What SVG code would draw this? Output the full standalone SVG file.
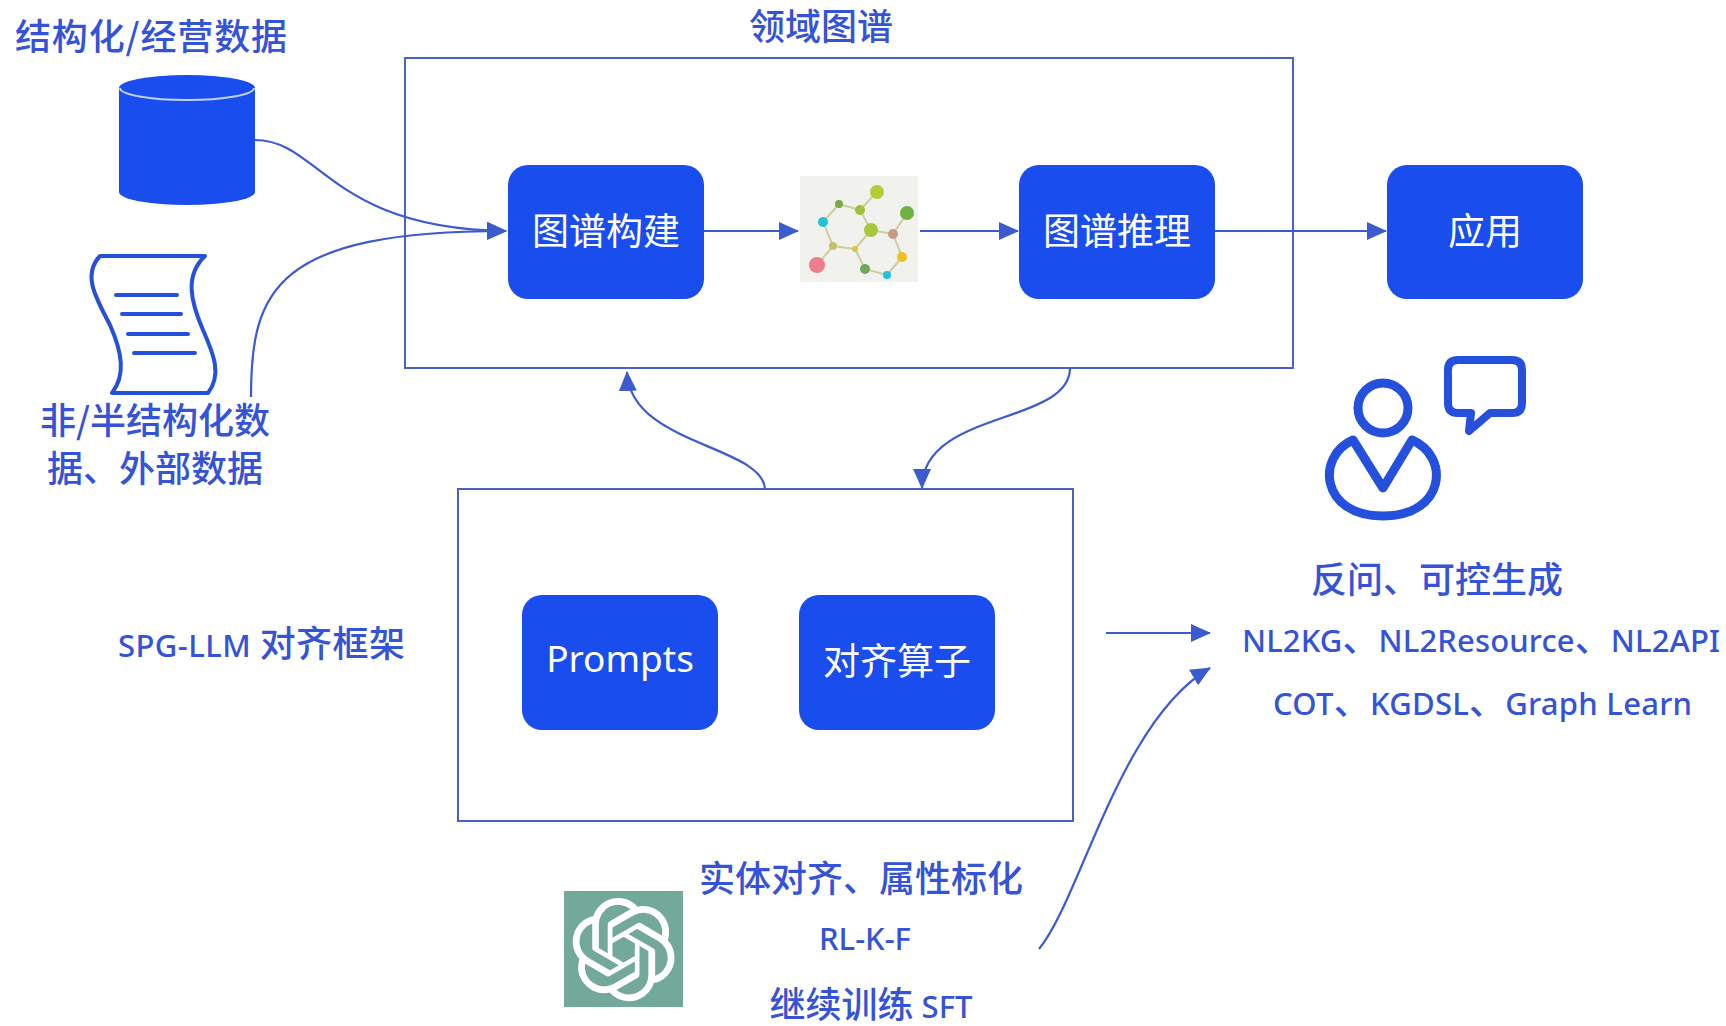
<svg xmlns="http://www.w3.org/2000/svg" width="1726" height="1026" viewBox="0 0 1726 1026">
  <defs>
    <style>
      .cjk { font-family: "Noto Sans CJK SC", sans-serif; }
      .mix { font-family: "Noto Sans", "Noto Sans CJK SC", sans-serif; }
      .lbl { fill: #3553d6; font-size: 36px; font-weight: 500; }
      .lat { font-size: 31px; }
      .box { fill: #1a4ded; }
      .boxtxt { fill: #ffffff; font-size: 37px; text-anchor: middle; }
      .frame { fill: none; stroke: #4a62c4; stroke-width: 2; }
      .conn { fill: none; stroke: #3c5bcf; stroke-width: 2.2; }
      .icon { fill: none; stroke: #2450dc; stroke-linecap: round; stroke-linejoin: round; }
      .mid { text-anchor: middle; }
    </style>
    <marker id="arrow" markerUnits="userSpaceOnUse" markerWidth="20" markerHeight="18" refX="19" refY="9" orient="auto">
      <path d="M0,0 L20,9 L0,18 Z" fill="#3c5bcf"/>
    </marker>
  </defs>

  <rect width="1726" height="1026" fill="#ffffff"/>

  <!-- structured / business data -->
  <g id="node-structured-data">
    <text class="cjk lbl" x="15" y="50" textLength="272">结构化/经营数据</text>
    <path class="box" d="M119,88 V192 A68,13 0 0 0 255,192 V88 A68,13 0 0 0 119,88 Z"/>
    <path d="M120,88 A67,12 0 0 0 254,88" fill="none" stroke="#c3d0ff" stroke-width="2"/>
  </g>

  <!-- unstructured / external data -->
  <g id="node-unstructured-data">
    <path class="icon" stroke-width="4" d="M100,256 H205 C185,275 190,300 203,330 C214,355 222,375 208,393 H112 C126,375 122,352 110,325 C96,298 82,275 100,256 Z"/>
    <path class="icon" stroke-width="4" d="M116,295 H177 M122,314 H181 M128,334 H188 M134,353 H195"/>
    <text class="cjk lbl mid" x="155" y="434">非/半结构化数</text>
    <text class="cjk lbl mid" x="155" y="482">据、外部数据</text>
  </g>

  <!-- domain knowledge graph container -->
  <g id="node-domain-graph">
    <text class="cjk lbl mid" x="821" y="40">领域图谱</text>
    <rect class="frame" x="405" y="58" width="888" height="310"/>
  </g>

  <g id="node-graph-build">
    <rect class="box" x="508" y="165" width="196" height="134" rx="20"/>
    <text class="cjk boxtxt" x="606" y="245">图谱构建</text>
  </g>

  <g id="node-graph-icon">
    <rect x="800" y="176" width="118" height="106" fill="#f1f1ee"/>
    <g stroke="#cfcf9c" stroke-width="2" fill="none">
      <path d="M839,204 L860,210 L877,192 M860,210 L871,230 L893,234 L907,213 M893,234 L902,257 L887,275 L865,269 L855,249 L871,230 M855,249 L833,246 L823,222 L839,204 M833,246 L817,265"/>
    </g>
    <circle cx="877" cy="192" r="7" fill="#b5cc3a"/>
    <circle cx="839" cy="204" r="4" fill="#7aa84a"/>
    <circle cx="860" cy="210" r="5" fill="#9cc13b"/>
    <circle cx="823" cy="222" r="5" fill="#22c3d8"/>
    <circle cx="907" cy="213" r="7" fill="#6fb043"/>
    <circle cx="871" cy="230" r="7" fill="#a7c83c"/>
    <circle cx="893" cy="234" r="5" fill="#c89a8a"/>
    <circle cx="833" cy="246" r="4" fill="#c8c070"/>
    <circle cx="855" cy="249" r="3" fill="#d8c64a"/>
    <circle cx="902" cy="257" r="5" fill="#f0c020"/>
    <circle cx="817" cy="265" r="8" fill="#ee7f8a"/>
    <circle cx="865" cy="269" r="5" fill="#6ea85a"/>
    <circle cx="887" cy="275" r="4" fill="#22c0e0"/>
  </g>

  <g id="node-graph-reason">
    <rect class="box" x="1019" y="165" width="196" height="134" rx="20"/>
    <text class="cjk boxtxt" x="1117" y="245">图谱推理</text>
  </g>

  <g id="node-app">
    <rect class="box" x="1387" y="165" width="196" height="134" rx="20"/>
    <text class="cjk boxtxt" x="1485" y="245">应用</text>
  </g>

  <!-- user with speech bubble -->
  <g id="node-user">
    <circle class="icon" cx="1383" cy="408" r="25" stroke-width="9"/>
    <path class="icon" stroke-width="9" d="M1353,440 C1316,456 1320,516 1383,516 C1446,516 1450,456 1412,440 L1383,488 Z"/>
    <path class="icon" stroke-width="8" d="M1458,360 H1512 Q1522,360 1522,370 V403 Q1522,413 1512,413 H1490 L1469,431 L1471,413 H1458 Q1448,413 1448,403 V370 Q1448,360 1458,360 Z"/>
  </g>

  <!-- generation outputs -->
  <g id="node-outputs">
    <text class="cjk lbl mid" x="1437" y="593">反问、可控生成</text>
    <text class="mix lbl lat" x="1242" y="652" textLength="478">NL2KG<tspan class="cjk" font-size="36">、</tspan>NL2Resource<tspan class="cjk" font-size="36">、</tspan>NL2API</text>
    <text class="mix lbl lat" x="1273" y="715" textLength="419">COT<tspan class="cjk" font-size="36">、</tspan>KGDSL<tspan class="cjk" font-size="36">、</tspan>Graph Learn</text>
  </g>

  <!-- SPG-LLM alignment framework -->
  <g id="node-spg-llm">
    <text class="mix lbl lat" x="118" y="657" textLength="287">SPG-LLM <tspan class="cjk" font-size="36">对齐框架</tspan></text>
    <rect class="frame" x="458" y="489" width="615" height="332"/>
  </g>

  <g id="node-prompts">
    <rect class="box" x="522" y="595" width="196" height="135" rx="20"/>
    <text class="mix boxtxt" font-size="31" x="620" y="672">Prompts</text>
  </g>

  <g id="node-align-ops">
    <rect class="box" x="799" y="595" width="196" height="135" rx="20"/>
    <text class="cjk boxtxt" x="897" y="675">对齐算子</text>
  </g>

  <!-- language model and training methods -->
  <g id="node-llm">
    <rect x="564" y="891" width="119" height="116" fill="#73a99a"/>
    <g transform="translate(572,898) scale(4.3)" fill="#ffffff">
      <path d="M22.2819 9.8211a5.9847 5.9847 0 0 0-.5157-4.9108 6.0462 6.0462 0 0 0-6.5098-2.9A6.0651 6.0651 0 0 0 4.9807 4.1818a5.9847 5.9847 0 0 0-3.9977 2.9 6.0462 6.0462 0 0 0 .7427 7.0966 5.98 5.98 0 0 0 .511 4.9107 6.051 6.051 0 0 0 6.5146 2.9001A5.9847 5.9847 0 0 0 13.2599 24a6.0557 6.0557 0 0 0 5.7718-4.2058 5.9894 5.9894 0 0 0 3.9977-2.9001 6.0557 6.0557 0 0 0-.7475-7.0729zm-9.022 12.6081a4.4755 4.4755 0 0 1-2.8764-1.0408l.1419-.0804 4.7783-2.7582a.7948.7948 0 0 0 .3927-.6813v-6.7369l2.02 1.1686a.071.071 0 0 1 .038.052v5.5826a4.504 4.504 0 0 1-4.4945 4.4944zm-9.6607-4.1254a4.4708 4.4708 0 0 1-.5346-3.0137l.142.0852 4.783 2.7582a.7712.7712 0 0 0 .7806 0l5.8428-3.3685v2.3324a.0804.0804 0 0 1-.0332.0615L9.74 19.9502a4.4992 4.4992 0 0 1-6.1408-1.6464zM2.3408 7.8956a4.485 4.485 0 0 1 2.3655-1.9728V11.6a.7664.7664 0 0 0 .3879.6765l5.8144 3.3543-2.0201 1.1685a.0757.0757 0 0 1-.071 0l-4.8303-2.7865A4.504 4.504 0 0 1 2.3408 7.872zm16.5963 3.8558L13.1038 8.364 15.1192 7.2a.0757.0757 0 0 1 .071 0l4.8303 2.7913a4.4944 4.4944 0 0 1-.6765 8.1042v-5.6772a.79.79 0 0 0-.407-.667zm2.0107-3.0231l-.142-.0852-4.7735-2.7818a.7759.7759 0 0 0-.7854 0L9.409 9.2297V6.8974a.0662.0662 0 0 1 .0284-.0615l4.8303-2.7866a4.4992 4.4992 0 0 1 6.6802 4.66zM8.3065 12.863l-2.02-1.1638a.0804.0804 0 0 1-.038-.0567V6.0742a4.4992 4.4992 0 0 1 7.3757-3.4537l-.142.0805L8.704 5.459a.7948.7948 0 0 0-.3927.6813zm1.0976-2.3654l2.602-1.4998 2.6069 1.4998v2.9994l-2.5974 1.4997-2.6067-1.4997Z"/>
    </g>
    <text class="cjk lbl mid" x="861" y="892">实体对齐、属性标化</text>
    <text class="mix lbl lat mid" x="865" y="950">RL-K-F</text>
    <text class="mix lbl lat mid" x="871" y="1018"><tspan class="cjk" font-size="36">继续训练</tspan> SFT</text>
  </g>

  <!-- connectors -->
  <g id="connectors">
    <path class="conn" d="M255,140 C320,140 330,229 506,231" marker-end="url(#arrow)"/>
    <path class="conn" d="M251,397 C251,290 275,231 506,231" marker-end="url(#arrow)"/>
    <path class="conn" d="M704,231 H798" marker-end="url(#arrow)"/>
    <path class="conn" d="M920,231 H1018" marker-end="url(#arrow)"/>
    <path class="conn" d="M1215,231 H1386" marker-end="url(#arrow)"/>
    <path class="conn" d="M765,489 C762,445 630,445 627,372" marker-end="url(#arrow)"/>
    <path class="conn" d="M1070,368 C1070,425 922,410 922,488" marker-end="url(#arrow)"/>
    <path class="conn" d="M1106,633 H1210" marker-end="url(#arrow)"/>
    <path class="conn" d="M1039,949 C1080,900 1120,720 1210,668" marker-end="url(#arrow)"/>
  </g>
</svg>
